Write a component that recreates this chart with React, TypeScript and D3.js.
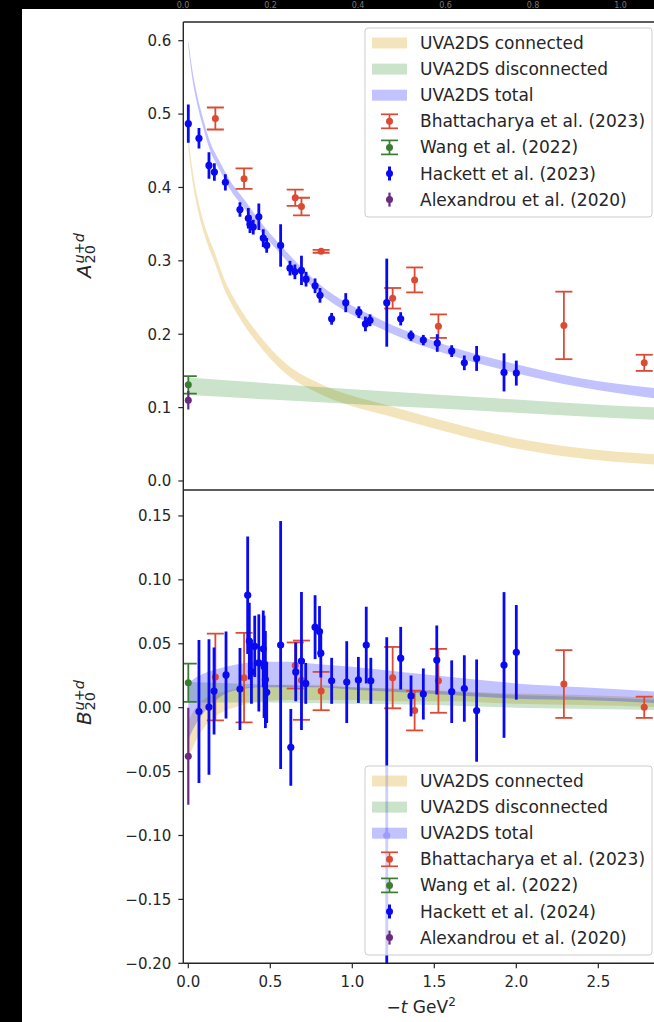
import React from 'react';
import * as d3 from 'd3';

const W = 654;
const H = 1022;

// ---------- x ticks ----------
const X_TICKS = [0, 0.5, 1.0, 1.5, 2.0, 2.5];
const X_TICK_LABELS = ['0.0', '0.5', '1.0', '1.5', '2.0', '2.5'];
const TOP_CUT_LABELS = ['0.0', '0.2', '0.4', '0.6', '0.8', '1.0'];
const TOP_CUT_X = [183, 270.5, 358, 445.5, 533, 620.5];

// ---------- A20 panel ticks ----------
const A_TICKS = [0, 0.1, 0.2, 0.3, 0.4, 0.5, 0.6];
const A_TICK_LABELS = ['0.0', '0.1', '0.2', '0.3', '0.4', '0.5', '0.6'];
// ---------- B20 panel ticks ----------
const B_TICKS = [-0.2, -0.15, -0.1, -0.05, 0, 0.05, 0.1, 0.15];
const B_TICK_LABELS = ['\u22120.20', '\u22120.15', '\u22120.10', '\u22120.05', '0.00', '0.05', '0.10', '0.15'];

// ---------- UVA2DS bands, A20 ----------
const TOT_A_T = [0, 0.02, 0.05, 0.09, 0.13, 0.19, 0.25, 0.34, 0.44, 0.56, 0.8, 1.17, 1.575, 1.98, 2.39, 2.87];
const TOT_A_LO = [0.593, 0.555, 0.518, 0.482, 0.452, 0.424, 0.399, 0.372, 0.341, 0.31, 0.256, 0.208, 0.173, 0.148, 0.128, 0.112];
const TOT_A_HI = [0.601, 0.567, 0.53, 0.494, 0.464, 0.436, 0.411, 0.384, 0.353, 0.322, 0.268, 0.22, 0.185, 0.16, 0.14, 0.126];

const CON_A_T = [0, 0.03, 0.07, 0.12, 0.16, 0.22, 0.3, 0.41, 0.6, 0.8, 1.0, 1.2, 1.575, 1.98, 2.39, 2.87];
const CON_A_LO = [0.452, 0.402, 0.358, 0.321, 0.298, 0.261, 0.227, 0.191, 0.145, 0.119, 0.102, 0.09, 0.067, 0.045, 0.031, 0.022];
const CON_A_HI = [0.468, 0.418, 0.373, 0.335, 0.312, 0.275, 0.241, 0.205, 0.159, 0.133, 0.116, 0.104, 0.081, 0.059, 0.045, 0.036];

const DIS_A_T = [0, 0.5, 1.0, 1.5, 2.0, 2.5, 2.87];
const DIS_A_LO = [0.117, 0.111, 0.105, 0.099, 0.093, 0.087, 0.083];
const DIS_A_HI = [0.141, 0.133, 0.125, 0.118, 0.111, 0.104, 0.1];

// ---------- UVA2DS bands, B20 ----------
const TOT_B_T = [0, 0.05, 0.1, 0.2, 0.3, 0.45, 0.6, 0.8, 1.0, 1.3, 1.6, 2.0, 2.4, 2.87];
const TOT_B_LO = [-0.025, -0.012, -0.003, 0.009, 0.014, 0.016, 0.016, 0.016, 0.014, 0.012, 0.01, 0.007, 0.006, 0.0035];
const TOT_B_HI = [0.019, 0.024, 0.027, 0.031, 0.034, 0.036, 0.036, 0.034, 0.032, 0.028, 0.024, 0.019, 0.016, 0.0125];

const CON_B_T = [0, 0.05, 0.1, 0.2, 0.3, 0.45, 0.6, 0.8, 1.0, 1.3, 1.6, 2.0, 2.4, 2.87];
const CON_B_LO = [-0.04, -0.025, -0.015, -0.004, 0.001, 0.005, 0.006, 0.006, 0.006, 0.005, 0.005, 0.003, 0.002, 0.0005];
const CON_B_HI = [-0.01, 0.001, 0.007, 0.012, 0.015, 0.017, 0.018, 0.018, 0.016, 0.015, 0.013, 0.011, 0.01, 0.0075];

const DIS_B_T = [0, 0.5, 1.0, 1.5, 2.0, 2.5, 2.87];
const DIS_B_LO = [0.004, 0.004, 0.003, 0.002, 0.0, -0.001, -0.002];
const DIS_B_HI = [0.02, 0.018, 0.016, 0.013, 0.01, 0.008, 0.006];

// ---------- Bhattacharya et al. (2023) ----------
const BH_T = [0.165, 0.34, 0.652, 0.69, 0.81, 1.246, 1.38, 1.525, 2.29, 2.78];
const BH_A_V = [0.494, 0.412, 0.386, 0.374, 0.313, 0.249, 0.274, 0.211, 0.212, 0.161];
const BH_A_E = [0.015, 0.014, 0.011, 0.012, 0.002, 0.014, 0.017, 0.016, 0.046, 0.011];
const BH_B_V = [0.024, 0.0235, 0.033, 0.0215, 0.013, 0.0235, -0.0023, 0.021, 0.0185, 0.0003];
const BH_B_E = [0.034, 0.035, 0.018, 0.031, 0.015, 0.024, 0.0155, 0.025, 0.0265, 0.0083];

// ---------- Wang et al. (2022) ----------
const WA_T = [0.0];
const WA_A_V = [0.131];
const WA_A_E = [0.012];
const WA_B_V = [0.0195];
const WA_B_E = [0.015];

// ---------- Hackett et al. (2023), A20 ----------
const HA_A_T = [0.0, 0.065, 0.126, 0.159, 0.226, 0.315, 0.366, 0.376, 0.396, 0.43, 0.457, 0.478, 0.563, 0.62, 0.65, 0.69, 0.718, 0.773, 0.803, 0.874, 0.96, 1.04, 1.08, 1.108, 1.21, 1.295, 1.358, 1.433, 1.518, 1.606, 1.683, 1.758, 1.925, 2.0];
const HA_A_V = [0.487, 0.467, 0.43, 0.421, 0.407, 0.37, 0.358, 0.35, 0.346, 0.36, 0.331, 0.321, 0.321, 0.29, 0.285, 0.287, 0.275, 0.266, 0.253, 0.221, 0.243, 0.23, 0.214, 0.219, 0.243, 0.221, 0.198, 0.192, 0.188, 0.177, 0.161, 0.167, 0.148, 0.147];
const HA_A_E = [0.026, 0.014, 0.018, 0.012, 0.011, 0.01, 0.014, 0.012, 0.01, 0.018, 0.012, 0.01, 0.029, 0.01, 0.01, 0.02, 0.01, 0.01, 0.01, 0.008, 0.013, 0.008, 0.01, 0.008, 0.06, 0.009, 0.007, 0.007, 0.012, 0.008, 0.01, 0.017, 0.026, 0.017];

// ---------- Hackett et al. (2024), B20 ----------
const HA_B_T = [0.065, 0.126, 0.157, 0.23, 0.315, 0.362, 0.372, 0.385, 0.405, 0.43, 0.457, 0.462, 0.47, 0.478, 0.563, 0.625, 0.655, 0.69, 0.716, 0.773, 0.8, 0.808, 0.874, 0.966, 1.037, 1.085, 1.113, 1.21, 1.295, 1.358, 1.433, 1.515, 1.606, 1.683, 1.758, 1.925, 2.0];
const HA_B_V = [-0.003, 0.0005, 0.013, 0.0256, 0.0146, 0.088, 0.052, 0.028, 0.048, 0.035, 0.046, 0.032, 0.022, 0.012, 0.049, -0.031, 0.028, 0.0365, 0.019, 0.063, 0.0595, 0.0426, 0.021, 0.02, 0.0217, 0.049, 0.021, -0.1, 0.0387, 0.0092, 0.0107, 0.0373, 0.0125, 0.015, -0.0023, 0.0334, 0.0433];
const HA_B_E = [0.056, 0.053, 0.034, 0.034, 0.032, 0.046, 0.03, 0.025, 0.024, 0.038, 0.03, 0.04, 0.038, 0.024, 0.097, 0.03, 0.023, 0.054, 0.016, 0.025, 0.02, 0.019, 0.018, 0.032, 0.018, 0.03, 0.018, 0.155, 0.0245, 0.016, 0.02, 0.027, 0.0245, 0.026, 0.04, 0.057, 0.037];

// ---------- Alexandrou et al. (2020) ----------
const AL_T = [0.0];
const AL_A_V = [0.11];
const AL_A_E = [0.0125];
const AL_B_V = [-0.038];
const AL_B_E = [0.038];

const LEGEND_A = ['UVA2DS connected', 'UVA2DS disconnected', 'UVA2DS total', 'Bhattacharya et al. (2023)', 'Wang et al. (2022)', 'Hackett et al. (2023)', 'Alexandrou et al. (2020)'];
const LEGEND_B = ['UVA2DS connected', 'UVA2DS disconnected', 'UVA2DS total', 'Bhattacharya et al. (2023)', 'Wang et al. (2022)', 'Hackett et al. (2024)', 'Alexandrou et al. (2020)'];

const FONT = '"DejaVu Sans", Verdana, sans-serif';
const TXT = '#262626';
const C_RED = '#dc4a33';
const C_GREEN = '#3b7d30';
const C_BLUE = '#0a0af0';
const C_PURPLE = '#6a2a80';
const BAND_CON = { fill: '#daa520', op: 0.3 };
const BAND_DIS = { fill: '#228b22', op: 0.24 };
const BAND_TOT = { fill: '#0000ff', op: 0.24 };

const PL = 183.3;
const PR = 659;
const A_TOP = 22;
const MID = 490;
const B_BOT = 963.3;

export default function App() {
  const x = d3.scaleLinear().domain([-0.0305, 2.87]).range([PL, PR]);
  const yA = d3.scaleLinear().domain([-0.0123, 0.6255]).range([MID, A_TOP]);
  const yB = d3.scaleLinear().domain([-0.2, 0.1703]).range([B_BOT, MID]);

  const band = (ts: number[], lo: number[], hi: number[], y: d3.ScaleLinear<number, number>) =>
    d3
      .area<number>()
      .x((t) => x(t))
      .y0((_, i) => y(lo[i]))
      .y1((_, i) => y(hi[i]))
      .curve(d3.curveMonotoneX)(ts) || '';

  const errbars = (
    key: string,
    ts: number[],
    vs: number[],
    es: number[],
    y: d3.ScaleLinear<number, number>,
    color: string,
    lw: number,
    cap: number,
    r: number
  ) =>
    ts.map((t, i) => {
      const cx = x(t);
      const cy = y(vs[i]);
      const y1 = y(vs[i] + es[i]);
      const y2 = y(vs[i] - es[i]);
      return (
        <g key={key + i}>
          <line x1={cx} x2={cx} y1={y1} y2={y2} stroke={color} strokeWidth={lw} />
          {cap > 0 && <line x1={cx - cap} x2={cx + cap} y1={y1} y2={y1} stroke={color} strokeWidth={lw} />}
          {cap > 0 && <line x1={cx - cap} x2={cx + cap} y1={y2} y2={y2} stroke={color} strokeWidth={lw} />}
          <circle cx={cx} cy={cy} r={r} fill={color} />
        </g>
      );
    });

  const legend = (top: number, labels: string[], key: string) => {
    const bx = 365;
    const bw = 287;
    const bh = 189;
    const rows = labels.map((_, i) => top + 15 + i * 26.1);
    const hx = 372;
    const hw = 35;
    const mx = hx + hw / 2;
    const patches = [BAND_CON, BAND_DIS, BAND_TOT];
    const ebs = [
      { c: C_RED, cap: 8.5, lw: 1.7 },
      { c: C_GREEN, cap: 8.5, lw: 1.7 },
      { c: C_BLUE, cap: 0, lw: 3 },
      { c: C_PURPLE, cap: 0, lw: 2.2 },
    ];
    return (
      <g key={key}>
        <rect x={bx} y={top} width={bw} height={bh} rx={3} fill="#ffffff" fillOpacity={0.8} stroke="#cccccc" strokeWidth={1} />
        {patches.map((p, i) => (
          <rect key={'p' + i} x={hx} y={rows[i] - 5.5} width={hw} height={11} fill={p.fill} fillOpacity={p.op} />
        ))}
        {ebs.map((e, j) => {
          const cy = rows[3 + j];
          return (
            <g key={'e' + j}>
              <line x1={mx} x2={mx} y1={cy - 7} y2={cy + 7} stroke={e.c} strokeWidth={e.lw} />
              {e.cap > 0 && <line x1={mx - e.cap} x2={mx + e.cap} y1={cy - 7} y2={cy - 7} stroke={e.c} strokeWidth={e.lw} />}
              {e.cap > 0 && <line x1={mx - e.cap} x2={mx + e.cap} y1={cy + 7} y2={cy + 7} stroke={e.c} strokeWidth={e.lw} />}
              <circle cx={mx} cy={cy} r={3.5} fill={e.c} />
            </g>
          );
        })}
        {labels.map((l, i) => (
          <text key={'t' + i} x={420} y={rows[i] + 6} fontSize={17} fill={TXT} fontFamily={FONT}>
            {l}
          </text>
        ))}
      </g>
    );
  };

  const yLabel = (letter: string, cy: number, key: string) => (
    <g key={key} transform={`translate(91,${cy}) rotate(-90)`} fontFamily={FONT} fill={TXT}>
      <text x={-22} y={0} fontSize={20} fontStyle="italic">
        {letter}
      </text>
      <text x={-7.5} y={-7.5} fontSize={14.5} fontStyle="italic">
        u+d
      </text>
      <text x={-7.5} y={4} fontSize={14.5}>
        20
      </text>
    </g>
  );

  return (
    <svg width={W} height={H} style={{ position: 'absolute', left: 0, top: 0, display: 'block' }} xmlns="http://www.w3.org/2000/svg">
      <defs>
        <clipPath id="clipA">
          <rect x={PL} y={A_TOP} width={PR - PL} height={MID - A_TOP} />
        </clipPath>
        <clipPath id="clipB">
          <rect x={PL} y={MID} width={PR - PL} height={B_BOT - MID} />
        </clipPath>
      </defs>
      <rect x={0} y={0} width={W} height={H} fill="#000000" />
      <rect x={22} y={9} width={W - 22} height={H - 9} fill="#ffffff" />

      {TOP_CUT_LABELS.map((l, i) => (
        <text key={'cut' + i} x={TOP_CUT_X[i]} y={7.5} textAnchor="middle" fontSize={8} fill="#7a7a7a" fontFamily={FONT}>
          {l}
        </text>
      ))}

      {/* ---- A20 panel ---- */}
      <g clipPath="url(#clipA)">
        <path d={band(CON_A_T, CON_A_LO, CON_A_HI, yA)} fill={BAND_CON.fill} fillOpacity={BAND_CON.op} />
        <path d={band(DIS_A_T, DIS_A_LO, DIS_A_HI, yA)} fill={BAND_DIS.fill} fillOpacity={BAND_DIS.op} />
        <path d={band(TOT_A_T, TOT_A_LO, TOT_A_HI, yA)} fill={BAND_TOT.fill} fillOpacity={BAND_TOT.op} />
        {errbars('bhA', BH_T, BH_A_V, BH_A_E, yA, C_RED, 1.8, 8.5, 3.5)}
        {errbars('waA', WA_T, WA_A_V, WA_A_E, yA, C_GREEN, 1.8, 8.5, 3.5)}
        {errbars('haA', HA_A_T, HA_A_V, HA_A_E, yA, C_BLUE, 2.8, 0, 3.6)}
        {errbars('alA', AL_T, AL_A_V, AL_A_E, yA, C_PURPLE, 2.2, 0, 3.5)}
      </g>

      {/* ---- B20 panel ---- */}
      <g clipPath="url(#clipB)">
        <path d={band(CON_B_T, CON_B_LO, CON_B_HI, yB)} fill={BAND_CON.fill} fillOpacity={BAND_CON.op} />
        <path d={band(DIS_B_T, DIS_B_LO, DIS_B_HI, yB)} fill={BAND_DIS.fill} fillOpacity={BAND_DIS.op} />
        <path d={band(TOT_B_T, TOT_B_LO, TOT_B_HI, yB)} fill={BAND_TOT.fill} fillOpacity={BAND_TOT.op} />
        {errbars('bhB', BH_T, BH_B_V, BH_B_E, yB, C_RED, 1.8, 8.5, 3.5)}
        {errbars('waB', WA_T, WA_B_V, WA_B_E, yB, C_GREEN, 1.8, 8.5, 3.5)}
        {errbars('haB', HA_B_T, HA_B_V, HA_B_E, yB, C_BLUE, 2.8, 0, 3.6)}
        {errbars('alB', AL_T, AL_B_V, AL_B_E, yB, C_PURPLE, 2.2, 0, 3.5)}
      </g>

      {legend(28, LEGEND_A, 'legA')}
      {legend(766, LEGEND_B, 'legB')}

      {/* spines */}
      <line x1={PL} x2={PL} y1={A_TOP} y2={B_BOT} stroke={TXT} strokeWidth={1.4} />
      <line x1={PL} x2={PR} y1={A_TOP} y2={A_TOP} stroke={TXT} strokeWidth={1.4} />
      <line x1={PL} x2={PR} y1={MID} y2={MID} stroke={TXT} strokeWidth={1.4} />
      <line x1={PL} x2={PR} y1={B_BOT} y2={B_BOT} stroke={TXT} strokeWidth={1.4} />

      {/* y ticks A */}
      {A_TICKS.map((v, i) => (
        <g key={'ta' + i}>
          <line x1={PL - 5} x2={PL} y1={yA(v)} y2={yA(v)} stroke={TXT} strokeWidth={1.2} />
          <text x={PL - 12} y={yA(v) + 5.4} textAnchor="end" fontSize={15} fill={TXT} fontFamily={FONT}>
            {A_TICK_LABELS[i]}
          </text>
        </g>
      ))}
      {/* y ticks B */}
      {B_TICKS.map((v, i) => (
        <g key={'tb' + i}>
          <line x1={PL - 5} x2={PL} y1={yB(v)} y2={yB(v)} stroke={TXT} strokeWidth={1.2} />
          <text x={PL - 12} y={yB(v) + 5.4} textAnchor="end" fontSize={15} fill={TXT} fontFamily={FONT}>
            {B_TICK_LABELS[i]}
          </text>
        </g>
      ))}
      {/* x ticks */}
      {X_TICKS.map((v, i) => (
        <g key={'tx' + i}>
          <line x1={x(v)} x2={x(v)} y1={B_BOT} y2={B_BOT + 5} stroke={TXT} strokeWidth={1.2} />
          <text x={x(v)} y={987} textAnchor="middle" fontSize={15} fill={TXT} fontFamily={FONT}>
            {X_TICK_LABELS[i]}
          </text>
        </g>
      ))}

      {yLabel('A', 256, 'ylA')}
      {yLabel('B', 703, 'ylB')}

      <text x={(PL + PR) / 2} y={1013} textAnchor="middle" fontSize={17} fill={TXT} fontFamily={FONT}>
        <tspan>{'\u2212'}</tspan>
        <tspan fontStyle="italic">t</tspan>
        <tspan> GeV</tspan>
        <tspan fontSize={12} dy={-7}>
          2
        </tspan>
      </text>
    </svg>
  );
}
